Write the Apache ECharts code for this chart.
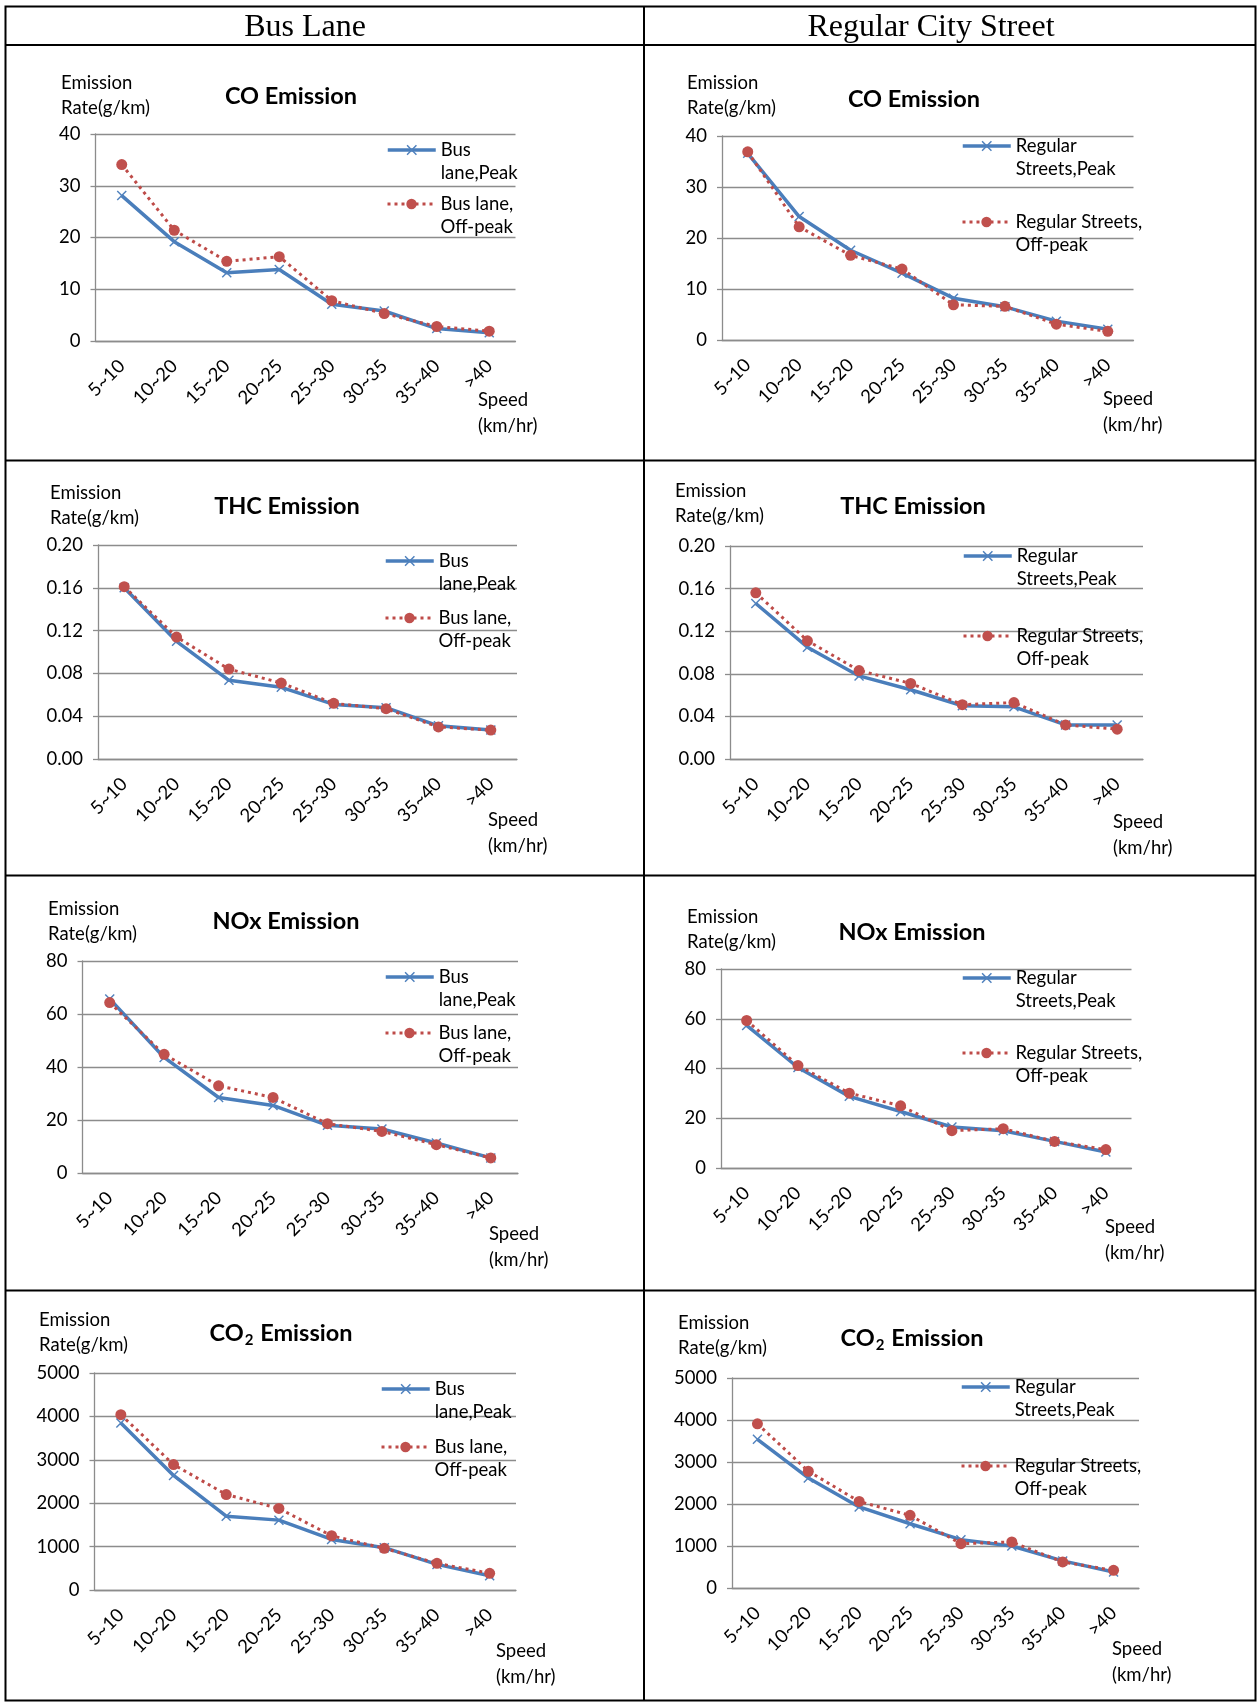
<!DOCTYPE html>
<html>
<head>
<meta charset="utf-8">
<title>Emission Rate by Speed</title>
<script src="https://cdn.jsdelivr.net/npm/echarts@6/dist/echarts.min.js"></script>
<style>
  html, body { margin: 0; padding: 0; background: #fff; }
  #emission-chart { width: 1258px; height: 1702px; }
</style>
</head>
<body>
<div id="emission-chart"></div>
<script>
// x axis: speed bins (km/hr)
var speedBins = ["5~10", "10~20", "15~20", "20~25", "25~30", "30~35", "35~40", ">40"];

// CO (g/km)
var coBusPeak = [28.1, 19.2, 13.2, 13.8, 7.1, 5.8, 2.4, 1.6];
var coBusOffPeak = [34.1, 21.4, 15.4, 16.3, 7.8, 5.3, 2.8, 1.9];
var coStreetPeak = [36.6, 24.2, 17.6, 13.1, 8.2, 6.5, 3.7, 2.1];
var coStreetOffPeak = [36.9, 22.2, 16.6, 13.9, 6.9, 6.6, 3.1, 1.7];

// THC (g/km)
var thcBusPeak = [0.160, 0.110, 0.0735, 0.067, 0.051, 0.048, 0.031, 0.027];
var thcBusOffPeak = [0.161, 0.114, 0.084, 0.071, 0.052, 0.047, 0.030, 0.027];
var thcStreetPeak = [0.146, 0.105, 0.078, 0.065, 0.050, 0.049, 0.032, 0.032];
var thcStreetOffPeak = [0.156, 0.111, 0.083, 0.071, 0.051, 0.053, 0.032, 0.028];

// NOx (g/km)
var noxBusPeak = [65.7, 43.6, 28.5, 25.5, 18.0, 16.6, 11.3, 5.7];
var noxBusOffPeak = [64.3, 44.8, 32.9, 28.5, 18.6, 15.7, 10.7, 5.7];
var noxStreetPeak = [57.3, 40.4, 28.8, 22.7, 16.5, 15.0, 10.7, 6.4];
var noxStreetOffPeak = [59.3, 41.2, 30.1, 25.0, 15.0, 15.8, 10.7, 7.4];

// CO2 (g/km)
var co2BusPeak = [3850, 2640, 1700, 1610, 1165, 975, 590, 330];
var co2BusOffPeak = [4040, 2890, 2200, 1880, 1250, 960, 615, 385];
var co2StreetPeak = [3540, 2620, 1930, 1530, 1150, 1000, 645, 380];
var co2StreetOffPeak = [3910, 2780, 2060, 1730, 1055, 1095, 620, 420];

// y axis ticks: [min, max, interval]
var coTicks = [0, 40, 10];
var thcTicks = [0, 0.2, 0.04];
var noxTicks = [0, 80, 20];
var co2Ticks = [0, 5000, 1000];

var columnTitles = ["Bus Lane", "Regular City Street"];
var busNames = ["Bus lane,Peak", "Bus lane, Off-peak"];
var streetNames = ["Regular Streets,Peak", "Regular Streets, Off-peak"];
// leading blank line keeps the first text line level with the legend icon
var legendText = {
  "Bus lane,Peak": "\nBus\nlane,Peak",
  "Bus lane, Off-peak": "\nBus lane,\nOff-peak",
  "Regular Streets,Peak": "\nRegular\nStreets,Peak",
  "Regular Streets, Off-peak": "\nRegular Streets,\nOff-peak"
};

var panels = [
  { title: "CO Emission", ticks: coTicks, names: busNames, peak: coBusPeak, off: coBusOffPeak },
  { title: "CO Emission", ticks: coTicks, names: streetNames, peak: coStreetPeak, off: coStreetOffPeak },
  { title: "THC Emission", ticks: thcTicks, names: busNames, peak: thcBusPeak, off: thcBusOffPeak, fixed: 2 },
  { title: "THC Emission", ticks: thcTicks, names: streetNames, peak: thcStreetPeak, off: thcStreetOffPeak, fixed: 2 },
  { title: "NOx Emission", ticks: noxTicks, names: busNames, peak: noxBusPeak, off: noxBusOffPeak },
  { title: "NOx Emission", ticks: noxTicks, names: streetNames, peak: noxStreetPeak, off: noxStreetOffPeak },
  { title: "CO{sub|2} Emission", ticks: co2Ticks, names: busNames, peak: co2BusPeak, off: co2BusOffPeak },
  { title: "CO{sub|2} Emission", ticks: co2Ticks, names: streetNames, peak: co2StreetPeak, off: co2StreetOffPeak }
];

// placement of each panel: grid [left, top, width, height], title centre, axis name spots, legend icon left + rows
var layout = [
  { grid: [95.5, 134, 420, 207], title: [291, 96], yName: [61, 83], xName: [478, 400], legend: [386, 150, 204] },
  { grid: [722, 136, 411.5, 204], title: [914, 99], yName: [687, 83], xName: [1103, 399], legend: [961, 146, 222] },
  { grid: [98, 545, 419, 214], title: [287, 506], yName: [50, 493], xName: [488, 820], legend: [384, 561, 618] },
  { grid: [730, 546, 413, 213], title: [913, 506], yName: [675, 491], xName: [1113, 822], legend: [962, 556, 636] },
  { grid: [82.5, 961, 435.5, 212], title: [286, 921], yName: [48, 909], xName: [489, 1234], legend: [384, 977, 1033] },
  { grid: [721, 969, 410.5, 199], title: [912, 932], yName: [687, 917], xName: [1105, 1227], legend: [961, 978, 1053] },
  { grid: [94.5, 1373, 421.5, 217], title: [281, 1333], yName: [39, 1320], xName: [496, 1651], legend: [380, 1389, 1447] },
  { grid: [732, 1378, 407, 210], title: [912, 1338], yName: [678, 1323], xName: [1112, 1649], legend: [960, 1387, 1466] }
];

var FONT = "Lato";
var FS = 18.5;
var AXIS_GRAY = "#8c8c8c";
var BLUE = "#4A7EBB";
var RED = "#BE4B48";
var X_MARK = "path://M0,1L1,0L5,4L9,0L10,1L6,5L10,9L9,10L5,6L1,10L0,9L4,5Z";

var option = {
  animation: false,
  backgroundColor: "#fff",
  title: [],
  legend: [],
  grid: [],
  xAxis: [],
  yAxis: [],
  series: [],
  graphic: []
};

// table frame
var frame = [
  { type: "rect", shape: { x: 5.5, y: 6.5, width: 1250, height: 1694 } },
  { type: "line", shape: { x1: 5.5, y1: 45, x2: 1255.5, y2: 45 } },
  { type: "line", shape: { x1: 644, y1: 6.5, x2: 644, y2: 1700.5 } },
  { type: "line", shape: { x1: 5.5, y1: 460.5, x2: 1255.5, y2: 460.5 } },
  { type: "line", shape: { x1: 5.5, y1: 875.5, x2: 1255.5, y2: 875.5 } },
  { type: "line", shape: { x1: 5.5, y1: 1290.5, x2: 1255.5, y2: 1290.5 } }
];
frame.forEach(function (f) {
  f.style = { stroke: "#000", lineWidth: 2, fill: null };
  f.silent = true;
  option.graphic.push(f);
});
[[305, 27.5], [931, 27.5]].forEach(function (pos, i) {
  option.graphic.push({
    type: "text", x: pos[0], y: pos[1], silent: true,
    style: {
      text: columnTitles[i], fill: "#000", font: "32px 'Liberation Serif'",
      textAlign: "center", textVerticalAlign: "middle"
    }
  });
});

panels.forEach(function (p, i) {
  var lay = layout[i];
  var g = lay.grid;

  option.grid.push({
    left: g[0], top: g[1], width: g[2], height: g[3],
    containLabel: false, outerBoundsMode: "none"
  });

  option.title.push({
    text: p.title, padding: 0,
    left: lay.title[0], top: lay.title[1] - 15, textAlign: "center",
    textStyle: {
      fontFamily: FONT, fontWeight: "bold", fontSize: 23.5, color: "#000", lineHeight: 30,
      rich: { sub: { fontFamily: FONT, fontWeight: "bold", fontSize: 15, verticalAlign: "bottom", lineHeight: 30, padding: [0, 1, 0, 1] } }
    }
  });

  option.xAxis.push({
    type: "category", gridIndex: i, data: speedBins,
    axisLine: { lineStyle: { color: AXIS_GRAY, width: 1.3 } },
    axisTick: { length: 6, lineStyle: { color: AXIS_GRAY, width: 1.3 } },
    axisLabel: { rotate: 45, margin: 22, fontFamily: FONT, fontSize: FS, color: "#000" }
  });

  option.yAxis.push({
    type: "value", gridIndex: i,
    min: p.ticks[0], max: p.ticks[1], interval: p.ticks[2],
    axisLine: { show: true, lineStyle: { color: AXIS_GRAY, width: 1.3 } },
    axisTick: { show: true, length: 5, lineStyle: { color: AXIS_GRAY, width: 1.3 } },
    splitLine: { lineStyle: { color: AXIS_GRAY, width: 1.3 } },
    axisLabel: {
      margin: 15, fontFamily: FONT, fontSize: FS, color: "#000",
      formatter: function (v) { return p.fixed ? v.toFixed(p.fixed) : String(v); }
    }
  });

  option.series.push({
    name: p.names[0], type: "line", xAxisIndex: i, yAxisIndex: i, data: p.peak,
    symbol: X_MARK, symbolSize: 10, z: 2,
    lineStyle: { color: BLUE, width: 3.5 },
    itemStyle: { color: "#4F81BD" }
  });
  option.series.push({
    name: p.names[1], type: "line", xAxisIndex: i, yAxisIndex: i, data: p.off,
    symbol: "circle", symbolSize: 11, z: 3,
    lineStyle: { color: RED, width: 3, type: [3, 4] },
    itemStyle: { color: "#C0504D" }
  });

  [0, 1].forEach(function (k) {
    option.legend.push({
      data: [p.names[k]], orient: "vertical", padding: 0, selectedMode: false,
      left: lay.legend[0], top: lay.legend[k + 1] - 34.5,
      itemWidth: 48, itemHeight: 13,
      lineStyle: { width: "inherit" },
      formatter: function (name) { return legendText[name]; },
      textStyle: { fontFamily: FONT, fontSize: FS, color: "#000", lineHeight: 23 }
    });
  });

  option.graphic.push({
    type: "text", x: lay.yName[0], y: lay.yName[1] - 12.5, silent: true,
    style: { text: "Emission\nRate(g/km)", fill: "#000", font: FS + "px " + FONT, lineHeight: 25 }
  });
  option.graphic.push({
    type: "text", x: lay.xName[0], y: lay.xName[1] - 13, silent: true,
    style: { text: "Speed\n(km/hr)", fill: "#000", font: FS + "px " + FONT, lineHeight: 26 }
  });
});

var chartEmission = echarts.init(document.getElementById("emission-chart"));
chartEmission.setOption(option);
window.addEventListener("resize", function () {
  chartEmission.resize();
});
</script>
</body>
</html>
